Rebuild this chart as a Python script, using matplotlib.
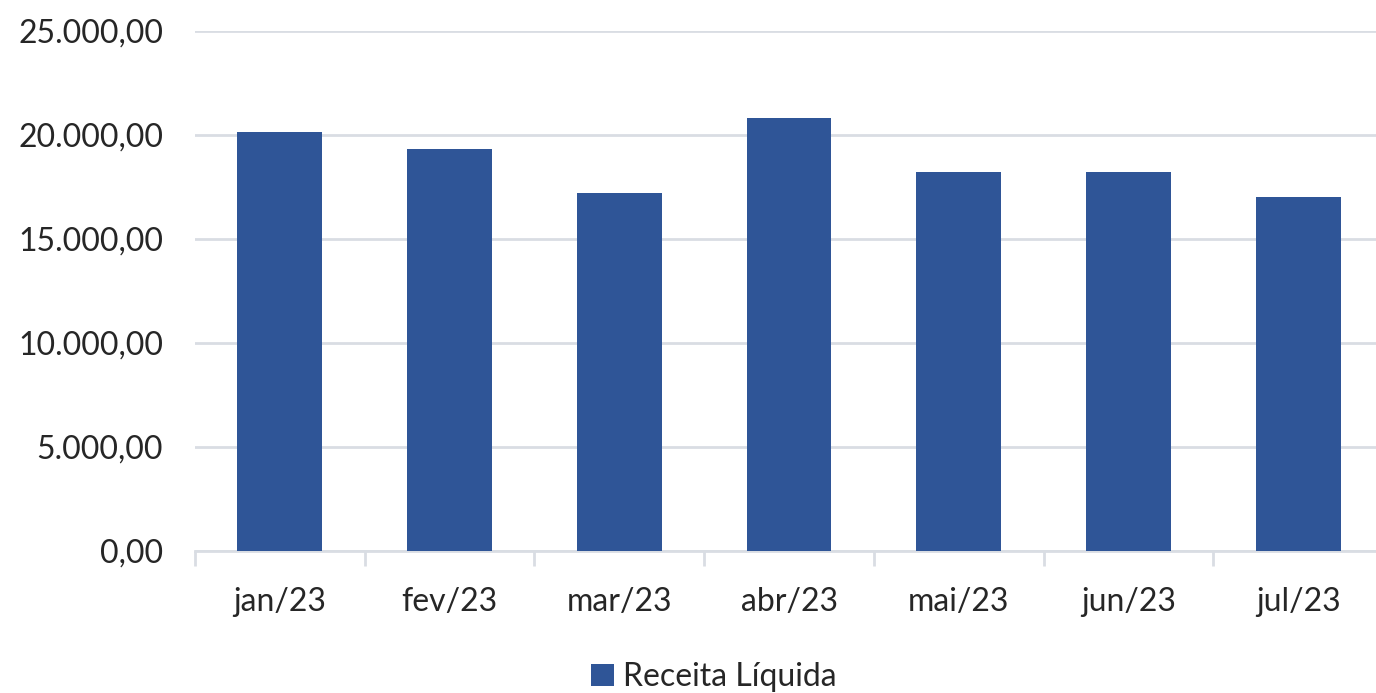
import matplotlib
matplotlib.use("Agg")
import matplotlib.pyplot as plt
from matplotlib.ticker import FuncFormatter, FixedLocator
from matplotlib.patches import Patch

months = ["jan/23", "fev/23", "mar/23", "abr/23", "mai/23", "jun/23", "jul/23"]
receita_liquida = [20160, 19330, 17210, 20820, 18240, 18240, 17020]
series_name = "Receita Líquida"

bar_color = "#2F5597"
grid_color = "#D9DDE3"
text_color = "#262626"

plt.rcParams["font.family"] = ["Lato", "DejaVu Sans"]


def br_format(value, pos):
    """Formats numbers the Brazilian way: 25.000,00"""
    s = f"{value:,.2f}"
    return s.replace(",", "X").replace(".", ",").replace("X", ".")


fig = plt.figure(figsize=(13.76, 6.93), dpi=100)
ax = fig.add_axes([195 / 1376, 1 - 551 / 693, 1188 / 1376, (551 - 31) / 693])

x = range(len(months))
ax.bar(x, receita_liquida, width=0.5, color=bar_color, zorder=3)

ax.set_xlim(-0.5, len(months) - 0.5)
ax.set_ylim(0, 25000)
ax.set_yticks(range(0, 25001, 5000))
ax.yaxis.set_major_formatter(FuncFormatter(br_format))
ax.grid(axis="y", color=grid_color, linewidth=2, zorder=0)

ax.set_xticks(list(x))
ax.set_xticklabels(months)
ax.xaxis.set_minor_locator(FixedLocator([i - 0.5 for i in range(len(months) + 1)]))
ax.tick_params(axis="x", which="major", length=0, pad=26, labelsize=23, labelcolor=text_color)
ax.tick_params(axis="x", which="minor", length=11, width=2, color=grid_color)
ax.tick_params(axis="y", length=0, pad=23, labelsize=23, labelcolor=text_color)

for side in ["top", "right", "left"]:
    ax.spines[side].set_visible(False)
ax.spines["bottom"].set_color(grid_color)
ax.spines["bottom"].set_linewidth(2)

handles = [Patch(facecolor=bar_color, label=series_name)]
fig.legend(
    handles=handles,
    loc="center",
    bbox_to_anchor=(714 / 1376, 1 - 677 / 693),
    frameon=False,
    fontsize=23,
    handlelength=0.7,
    handleheight=0.7,
    handletextpad=0.3,
    labelcolor=text_color,
)

plt.savefig("out.png", dpi=100)
